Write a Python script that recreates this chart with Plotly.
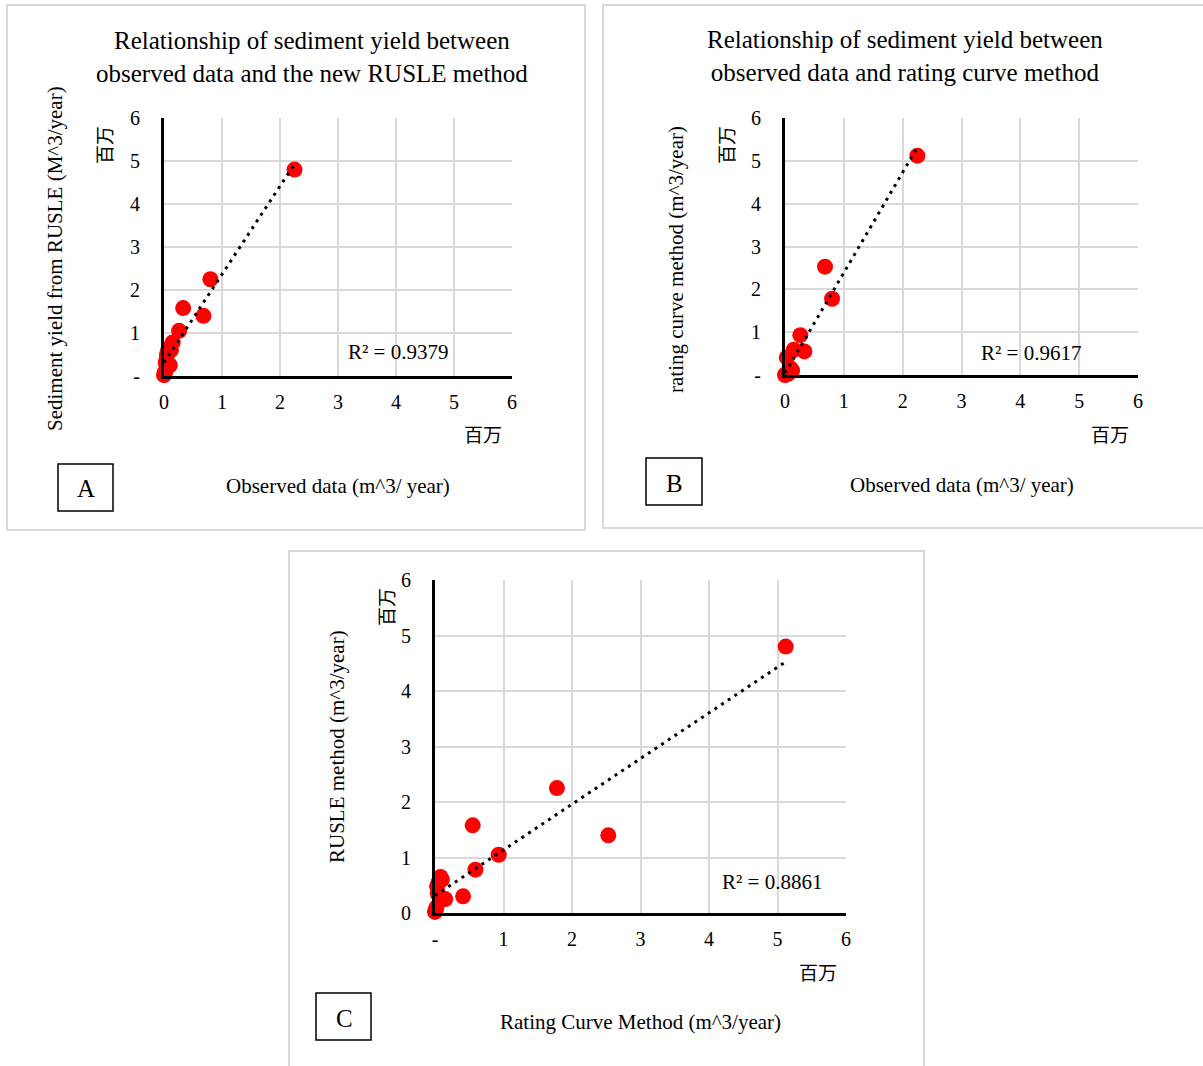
import numpy as np
import plotly.graph_objects as go

W, H = 1203, 1066

# Data (millions of m^3/year)
observed = [2.25, 0.80, 0.68, 0.33, 0.26, 0.15, 0.03, 0.10, 0.08, 0.06, 0.05, 0.12, 0.02, 0.01, 0.00, 0.04]
rusle    = [4.80, 2.25, 1.40, 1.58, 1.05, 0.78, 0.30, 0.25, 0.65, 0.55, 0.48, 0.60, 0.10, 0.05, 0.02, 0.35]
rating   = [5.12, 1.78, 2.53, 0.55, 0.93, 0.59, 0.41, 0.15, 0.08, 0.05, 0.03, 0.10, 0.02, 0.01, 0.00, 0.04]

axis_vals = [0, 1, 2, 3, 4, 5, 6]
ticks_zero = ["0", "1", "2", "3", "4", "5", "6"]
ticks_dash = ["-", "1", "2", "3", "4", "5", "6"]

r2_labels = ["R² = 0.9379", "R² = 0.9617", "R² = 0.8861"]
titles = ["Relationship of sediment yield between<br>observed data and the new RUSLE method",
          "Relationship of sediment yield between<br>observed data and rating curve method"]
xtitles = ["Observed data (m^3/ year)", "Observed data (m^3/ year)", "Rating Curve Method (m^3/year)"]
ytitles = ["Sediment yield from RUSLE (M^3/year)", "rating curve method (m^3/year)", "RUSLE method (m^3/year)"]
panel_letters = ["A", "B", "C"]
unit = "百万"

SERIF = "Liberation Serif"
CJK = "Noto Sans CJK SC"

def px(x):
    return x / W

def py(y):
    return 1 - y / H

# plot areas in pixels: (left, top, right, bottom)
areas = [(164, 118, 512, 376), (785, 118, 1138, 375), (435, 580, 846, 913)]
pairs = [(observed, rusle), (observed, rating), (rating, rusle)]
xticktexts = [ticks_zero, ticks_zero, ticks_dash]
yticktexts = [ticks_dash, ticks_dash, ticks_zero]

fig = go.Figure()
for i, ((xs, ys), (l, t, r, b)) in enumerate(zip(pairs, areas)):
    xa = "x" if i == 0 else f"x{i+1}"
    ya = "y" if i == 0 else f"y{i+1}"
    fig.add_trace(go.Scatter(x=xs, y=ys, mode="markers", xaxis=xa, yaxis=ya,
                             marker=dict(color="#ff0000", size=16), cliponaxis=False,
                             showlegend=False, hoverinfo="skip"))
    xarr = np.array(xs); yarr = np.array(ys)
    k, c = np.polyfit(xarr, yarr, 1)
    lx = [xarr.min(), xarr.max()]
    ly = [k * v + c for v in lx]
    fig.add_trace(go.Scatter(x=lx, y=ly, mode="lines", xaxis=xa, yaxis=ya,
                             line=dict(color="black", width=3, dash="3px,5px"),
                             showlegend=False, hoverinfo="skip"))
    axcommon = dict(range=[0, 6], tickvals=axis_vals, showgrid=True, gridcolor="#d9d9d9",
                    gridwidth=2, zeroline=False, showline=True, linecolor="black", linewidth=3,
                    ticks="outside", tickcolor="rgba(0,0,0,0)", automargin=False,
                    tickfont=dict(family=SERIF, size=20, color="black"), fixedrange=True)
    xkey = "xaxis" if i == 0 else f"xaxis{i+1}"
    ykey = "yaxis" if i == 0 else f"yaxis{i+1}"
    fig.layout[xkey] = dict(axcommon, domain=[px(l), px(r)], anchor=ya, ticktext=xticktexts[i], ticklen=6)
    fig.layout[ykey] = dict(axcommon, domain=[py(b), py(t)], anchor=xa, ticktext=yticktexts[i], ticklen=17)

ann = []
def text(x, y, s, size=21, angle=0, family=SERIF):
    ann.append(dict(x=px(x), y=py(y), xref="paper", yref="paper", text=s, showarrow=False,
                    font=dict(family=family, size=size, color="black"), textangle=angle,
                    xanchor="center", yanchor="middle"))

# titles
text(312, 57, titles[0], size=25)
text(905, 56, titles[1], size=25)
# axis titles
text(338, 486, xtitles[0]); text(962, 485, xtitles[1]); text(640, 1022, xtitles[2])
text(55, 259, ytitles[0], angle=-90); text(676, 260, ytitles[1], angle=-90); text(337, 747, ytitles[2], angle=-90)
# unit labels
text(104, 145, unit, size=19, angle=-90, family=CJK)
text(726, 145, unit, size=19, angle=-90, family=CJK)
text(385, 607, unit, size=19, angle=-90, family=CJK)
text(483, 434, unit, size=19, family=CJK)
text(1110, 433, unit, size=19, family=CJK)
text(818, 971, unit, size=19, family=CJK)
# R2
text(398, 352, r2_labels[0]); text(1031, 353, r2_labels[1]); text(772, 882, r2_labels[2])
# panel letters
text(86, 489, panel_letters[0], size=25); text(674, 483, panel_letters[1], size=25); text(344, 1018, panel_letters[2], size=25)

shapes = []
def rect(x0, y0, x1, y1, color, width):
    shapes.append(dict(type="rect", xref="paper", yref="paper", x0=px(x0), x1=px(x1), y0=py(y1), y1=py(y0),
                       line=dict(color=color, width=width), fillcolor="rgba(0,0,0,0)", layer="below"))

rect(7, 5, 585, 530, "#d9d9d9", 2)
rect(603, 5, 1210, 528, "#d9d9d9", 2)
rect(289, 551, 924, 1075, "#d9d9d9", 2)
rect(58, 464, 113, 511, "black", 1.5)
rect(646, 458, 702, 505, "black", 1.5)
rect(316, 993, 371, 1040, "black", 1.5)

fig.update_layout(width=W, height=H, margin=dict(l=0, r=0, t=0, b=0, autoexpand=False),
                  paper_bgcolor="white", plot_bgcolor="white",
                  annotations=ann, shapes=shapes)
fig.write_html("out.html", config={"displayModeBar": False},
               post_script="document.body.style.margin='0px';document.body.style.overflow='hidden';")
